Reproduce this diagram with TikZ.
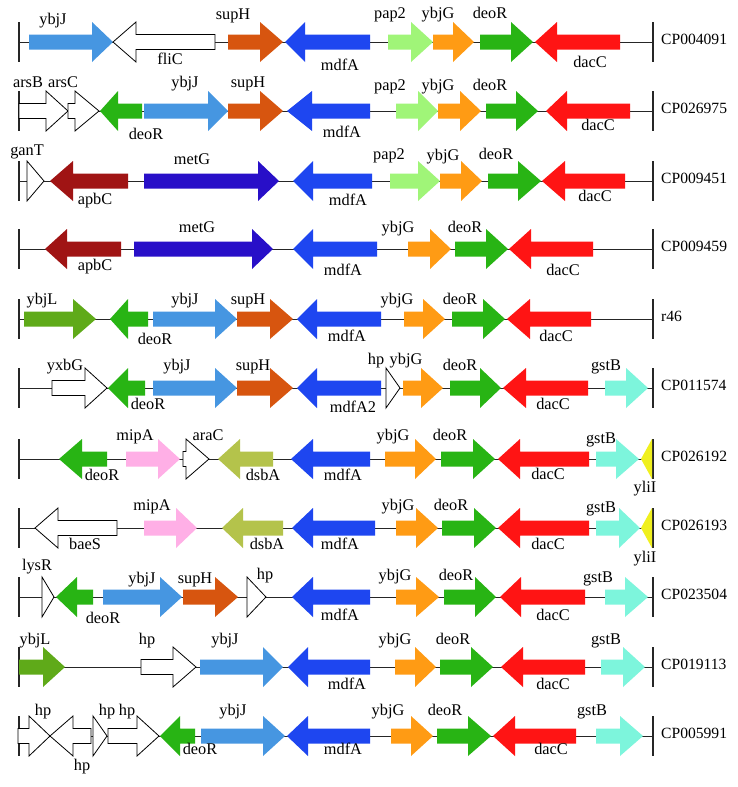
\documentclass[tikz,border=0pt]{standalone}
\usepackage{fontspec}
\setmainfont{Liberation Serif}
\definecolor{cybjJ}{RGB}{70,150,225}
\definecolor{cmdfA}{RGB}{30,70,240}
\definecolor{csupH}{RGB}{215,85,15}
\definecolor{cpap2}{RGB}{160,245,120}
\definecolor{cybjG}{RGB}{255,155,20}
\definecolor{cdeoR}{RGB}{40,180,20}
\definecolor{cdacC}{RGB}{255,20,20}
\definecolor{capbC}{RGB}{160,20,20}
\definecolor{cmetG}{RGB}{40,15,200}
\definecolor{cybjL}{RGB}{95,170,25}
\definecolor{cgstB}{RGB}{125,245,220}
\definecolor{cmipA}{RGB}{255,175,230}
\definecolor{cdsbA}{RGB}{180,195,75}
\definecolor{cyliI}{RGB}{240,240,30}
\newcounter{lbc}
\newcommand\gene[5]{\path[#5] (#1,#4-7.5) -- (#2,#4-7.5) -- (#2,#4-20) -- (#3,#4) -- (#2,#4+20) -- (#2,#4+7.5) -- (#1,#4+7.5) -- cycle;}
\newcommand\lb[3]{\stepcounter{lbc}\node[lbl] (lb\arabic{lbc}) at (#1,#2) {#3};}
\newcommand\generow[3]{\draw[rowline] (19,#1) -- (653,#1);
  \draw[endbar] (19,#1-20) -- (19,#1+20);
  \draw[endbar] (653,#1-20) -- (653,#1+20);
  \node[acc] (#3) at (661,#1) {#2};}
\tikzset{
  lbl/.style={inner sep=0pt, text height=0.7em, text depth=0.22em, anchor=center, font=\fontsize{16.3}{18}\selectfont},
  acc/.style={inner sep=0pt, anchor=west, text height=0.7em, text depth=0.22em, font=\fontsize{15.6}{18}\selectfont},
  rowline/.style={line width=1pt, black!85},
  endbar/.style={line width=1.6pt, black!85},
  wg/.style={fill=white, draw=black, line width=0.8pt, line join=miter},
  gybjJ/.style={fill=cybjJ}, gmdfA/.style={fill=cmdfA}, gsupH/.style={fill=csupH},
  gpap2/.style={fill=cpap2}, gybjG/.style={fill=cybjG}, gdeoR/.style={fill=cdeoR},
  gdacC/.style={fill=cdacC}, gapbC/.style={fill=capbC}, gmetG/.style={fill=cmetG},
  gybjL/.style={fill=cybjL}, ggstB/.style={fill=cgstB}, gmipA/.style={fill=cmipA},
  gdsbA/.style={fill=cdsbA}, gyliI/.style={fill=cyliI}
}
\begin{document}
\begin{tikzpicture}[x=1pt,y=-1pt]
\useasboundingbox[fill=white] (0,0) rectangle (738,787);
% Row 1
\generow{42}{CP004091}{acc1}
\gene{29}{92}{113}{42}{gybjJ}
\gene{215}{136}{113}{42}{wg}
\gene{228}{260}{283}{42}{gsupH}
\gene{370}{305}{285}{42}{gmdfA}
\gene{388}{411}{433}{42}{gpap2}
\gene{433}{453}{474}{42}{gybjG}
\gene{480}{511}{533}{42}{gdeoR}
\gene{620}{557}{535}{42}{gdacC}
\lb{53}{22}{ybjJ}\lb{233}{17}{supH}\lb{170}{62}{fliC}\lb{340}{68}{mdfA}
\lb{390}{16}{pap2}\lb{438}{16}{ybjG}\lb{490}{16}{deoR}\lb{590}{65}{dacC}
% Row 2
\generow{111}{CP026975}{acc2}
\gene{19}{46}{68}{111}{wg}
\gene{68}{75}{99}{111}{wg}
\gene{142}{118}{100}{111}{gdeoR}
\gene{144}{208}{228}{111}{gybjJ}
\gene{228}{260}{283}{111}{gsupH}
\gene{370}{312}{287}{111}{gmdfA}
\gene{396}{418}{438}{111}{gpap2}
\gene{438}{460}{481}{111}{gybjG}
\gene{486}{516}{538}{111}{gdeoR}
\gene{630}{567}{546}{111}{gdacC}
\lb{28}{85}{arsB}\lb{63}{85}{arsC}\lb{146}{137}{deoR}\lb{185}{85}{ybjJ}\lb{248}{85}{supH}
\lb{342}{135}{mdfA}\lb{390}{88}{pap2}\lb{438}{88}{ybjG}\lb{490}{88}{deoR}\lb{598}{128}{dacC}
% Row 3
\generow{181}{CP009451}{acc3}
\gene{27}{27}{44}{181}{wg}
\gene{128}{73}{50}{181}{gapbC}
\gene{144}{258}{279}{181}{gmetG}
\gene{372}{313}{293}{181}{gmdfA}
\gene{390}{418}{440}{181}{gpap2}
\gene{440}{461}{482}{181}{gybjG}
\gene{488}{518}{541}{181}{gdeoR}
\gene{625}{565}{542}{181}{gdacC}
\lb{27}{153}{ganT}\lb{95}{202}{apbC}\lb{192}{162}{metG}\lb{348}{203}{mdfA}
\lb{389}{157}{pap2}\lb{443}{158}{ybjG}\lb{496}{157}{deoR}\lb{595}{199}{dacC}
% Row 4
\generow{249}{CP009459}{acc4}
\gene{121}{67}{45}{249}{gapbC}
\gene{134}{252}{273}{249}{gmetG}
\gene{377}{313}{293}{249}{gmdfA}
\gene{408}{430}{451}{249}{gybjG}
\gene{455}{486}{508}{249}{gdeoR}
\gene{593}{531}{509}{249}{gdacC}
\lb{95}{268}{apbC}\lb{197}{230}{metG}\lb{343}{273}{mdfA}
\lb{398}{230}{ybjG}\lb{465}{230}{deoR}\lb{563}{273}{dacC}
% Row 5
\generow{319}{r46}{acc5}
\gene{24}{73}{96}{319}{gybjL}
\gene{148}{128}{110}{319}{gdeoR}
\gene{153}{215}{237}{319}{gybjJ}
\gene{237}{270}{293}{319}{gsupH}
\gene{381}{317}{297}{319}{gmdfA}
\gene{404}{423}{445}{319}{gybjG}
\gene{452}{483}{505}{319}{gdeoR}
\gene{591}{530}{507}{319}{gdacC}
\lb{42}{302}{ybjL}\lb{155}{342}{deoR}\lb{185}{302}{ybjJ}\lb{248}{302}{supH}
\lb{347}{339}{mdfA}\lb{397}{302}{ybjG}\lb{460}{302}{deoR}\lb{556}{339}{dacC}
% Row 6
\generow{388}{CP011574}{acc6}
\gene{52}{85}{107}{388}{wg}
\gene{145}{128}{108}{388}{gdeoR}
\gene{153}{215}{237}{388}{gybjJ}
\gene{237}{270}{293}{388}{gsupH}
\gene{381}{317}{297}{388}{gmdfA}
\gene{386}{386}{400}{388}{wg}
\gene{403}{421}{443}{388}{gybjG}
\gene{450}{480}{501}{388}{gdeoR}
\gene{588}{526}{503}{388}{gdacC}
\gene{605}{626}{648}{388}{ggstB}
\lb{65}{368}{yxbG}\lb{148}{407}{deoR}\lb{177}{368}{ybjJ}\lb{253}{368}{supH}
\lb{353}{410}{mdfA2}\lb{376}{362}{hp}\lb{406}{362}{ybjG}\lb{460}{368}{deoR}
\lb{553}{407}{dacC}\lb{606}{368}{gstB}
% Row 7
\generow{459}{CP026192}{acc7}
\gene{107}{82}{59}{459}{gdeoR}
\gene{126}{158}{180}{459}{gmipA}
\gene{183}{186}{209}{459}{wg}
\gene{273}{240}{218}{459}{gdsbA}
\gene{370}{313}{291}{459}{gmdfA}
\gene{385}{415}{436}{459}{gybjG}
\gene{441}{473}{495}{459}{gdeoR}
\gene{589}{520}{498}{459}{gdacC}
\gene{596}{616}{639}{459}{ggstB}
\gene{652}{652}{641}{459}{gyliI}
\lb{102}{478}{deoR}\lb{135}{438}{mipA}\lb{208}{438}{araC}\lb{263}{478}{dsbA}
\lb{343}{478}{mdfA}\lb{393}{438}{ybjG}\lb{450}{438}{deoR}\lb{548}{477}{dacC}
\lb{601}{441}{gstB}\lb{645}{490}{yliI}
% Row 8
\generow{528}{CP026193}{acc8}
\gene{117}{58}{35}{528}{wg}
\gene{144}{176}{197}{528}{gmipA}
\gene{283}{243}{222}{528}{gdsbA}
\gene{375}{313}{292}{528}{gmdfA}
\gene{396}{416}{438}{528}{gybjG}
\gene{442}{474}{496}{528}{gdeoR}
\gene{589}{520}{498}{528}{gdacC}
\gene{596}{619}{640}{528}{ggstB}
\gene{652}{652}{641}{528}{gyliI}
\lb{85}{547}{baeS}\lb{152}{508}{mipA}\lb{267}{547}{dsbA}\lb{340}{547}{mdfA}
\lb{398}{508}{ybjG}\lb{451}{508}{deoR}\lb{548}{547}{dacC}\lb{601}{510}{gstB}
\lb{645}{560}{yliI}
% Row 9
\generow{597}{CP023504}{acc9}
\gene{42}{42}{54}{597}{wg}
\gene{93}{77}{56}{597}{gdeoR}
\gene{103}{160}{182}{597}{gybjJ}
\gene{183}{215}{238}{597}{gsupH}
\gene{247}{247}{266}{597}{wg}
\gene{370}{313}{292}{597}{gmdfA}
\gene{396}{416}{439}{597}{gybjG}
\gene{444}{475}{496}{597}{gdeoR}
\gene{585}{521}{500}{597}{gdacC}
\gene{605}{625}{648}{597}{ggstB}
\lb{37}{568}{lysR}\lb{103}{621}{deoR}\lb{142}{581}{ybjJ}\lb{195}{581}{supH}
\lb{265}{577}{hp}\lb{340}{618}{mdfA}\lb{395}{578}{ybjG}\lb{456}{578}{deoR}
\lb{553}{618}{dacC}\lb{598}{580}{gstB}
% Row 10
\generow{667}{CP019113}{acc10}
\gene{19}{43}{65}{667}{gybjL}
\gene{141}{173}{196}{667}{wg}
\gene{200}{263}{283}{667}{gybjJ}
\gene{370}{308}{288}{667}{gmdfA}
\gene{395}{415}{436}{667}{gybjG}
\gene{440}{471}{493}{667}{gdeoR}
\gene{585}{523}{501}{667}{gdacC}
\gene{601}{623}{645}{667}{ggstB}
\lb{35}{642}{ybjL}\lb{147}{642}{hp}\lb{225}{642}{ybjJ}\lb{347}{687}{mdfA}
\lb{395}{642}{ybjG}\lb{453}{642}{deoR}\lb{553}{687}{dacC}\lb{606}{642}{gstB}
% Row 11
\generow{736}{CP005991}{acc11}
\gene{18}{29}{50}{736}{wg}
\gene{91}{73}{50}{736}{wg}
\gene{93}{93}{107}{736}{wg}
\gene{108}{137}{159}{736}{wg}
\gene{195}{180}{160}{736}{gdeoR}
\gene{201}{263}{285}{736}{gybjJ}
\gene{370}{308}{287}{736}{gmdfA}
\gene{391}{411}{433}{736}{gybjG}
\gene{437}{468}{491}{736}{gdeoR}
\gene{576}{515}{493}{736}{gdacC}
\gene{596}{620}{643}{736}{ggstB}
\lb{43}{713}{hp}\lb{82}{768}{hp}\lb{107}{713}{hp}\lb{127}{713}{hp}
\lb{200}{752}{deoR}\lb{233}{713}{ybjJ}\lb{343}{752}{mdfA}\lb{388}{713}{ybjG}
\lb{445}{713}{deoR}\lb{551}{752}{dacC}\lb{592}{713}{gstB}
\end{tikzpicture}
\end{document}
